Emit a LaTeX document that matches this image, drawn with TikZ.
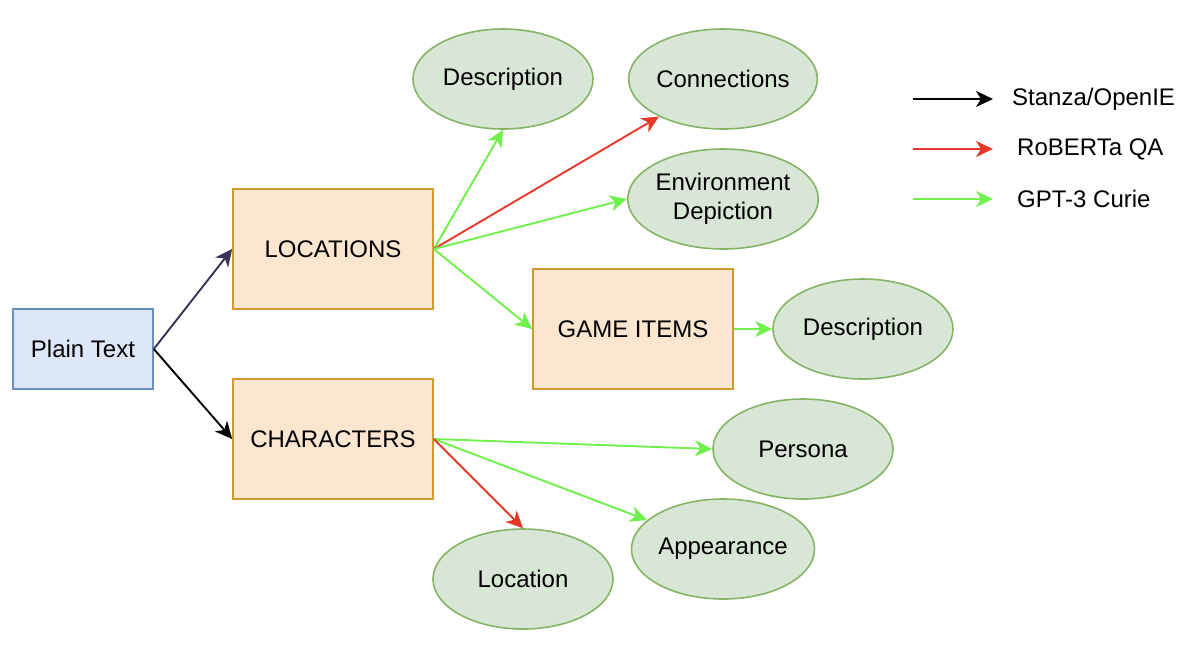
\documentclass[tikz,border=0pt]{standalone}
\usepackage{fontspec}
\setmainfont{Liberation Sans}
\usetikzlibrary{shapes.geometric,arrows.meta}
\definecolor{boxfill}{HTML}{FCE6D0}
\definecolor{boxline}{HTML}{D49A2E}
\definecolor{ellfill}{HTML}{D8E7D5}
\definecolor{ellline}{HTML}{86B366}
\definecolor{bluefill}{HTML}{DCE7FA}
\definecolor{blueline}{HTML}{6C8EBF}
\definecolor{gptgreen}{HTML}{6FF04A}
\definecolor{robred}{HTML}{E8382A}
\definecolor{purp}{HTML}{3B3056}
\begin{document}
\begin{tikzpicture}[x=1pt,y=-1pt,
  font=\fontsize{24}{29}\selectfont,
  rectbox/.style={draw=boxline, fill=boxfill, line width=1.6pt, minimum width=200pt, minimum height=120pt, inner sep=0pt},
  bluebox/.style={draw=blueline, fill=bluefill, line width=1.6pt, minimum width=140pt, minimum height=80pt, inner sep=0pt},
  ell/.style={ellipse, draw=ellline, fill=ellfill, line width=1.6pt, minimum width=180pt, minimum height=100pt, inner sep=0pt, align=center},
  conn/.style={line width=1.9pt, -{Stealth[length=17pt,width=16pt,inset=5pt]}},
  legtext/.style={anchor=west, inner sep=0pt}
]
\useasboundingbox (0,0) rectangle (1204,646);

\node[bluebox] (plain) at (83,349) {Plain Text};
\node[rectbox] (loc) at (333,249) {LOCATIONS};
\node[rectbox] (char) at (333,439) {CHARACTERS};
\node[rectbox] (game) at (633,329) {GAME ITEMS};

\node[ell] (desc1) at (503,79) {Description};
\node[ell] (conns) at (723,79) {Connections};
\node[ell] (env) at (723,199) {Environment\\Depiction};
\node[ell] (desc2) at (863,329) {Description};
\node[ell] (pers) at (803,449) {Persona};
\node[ell] (appe) at (723,549) {Appearance};
\node[ell] (locn) at (523,579) {Location};

\draw[conn, purp] (plain.east) -- (loc.west);
\draw[conn, black] (plain.east) -- (char.west);

\draw[conn, gptgreen] (loc.east) -- (desc1.south);
\draw[conn, robred] (loc.east) -- (conns);
\draw[conn, gptgreen] (loc.east) -- (env.west);
\draw[conn, gptgreen] (loc.east) -- (game.west);
\draw[conn, gptgreen] (game.east) -- (desc2.west);

\draw[conn, gptgreen] (char.east) -- (pers.west);
\draw[conn, gptgreen] (char.east) -- (appe);
\draw[conn, robred] (char.east) -- (locn.north);

% legend
\coordinate (l1s) at (913,99);  \coordinate (l1e) at (993,99);
\coordinate (l2s) at (913,149); \coordinate (l2e) at (993,149);
\coordinate (l3s) at (913,199); \coordinate (l3e) at (993,199);
\draw[conn, black] (l1s) -- (l1e);
\draw[conn, robred] (l2s) -- (l2e);
\draw[conn, gptgreen] (l3s) -- (l3e);
\node[legtext] (t1) at (1012,99) {Stanza/OpenIE};
\node[legtext] (t2) at (1017,149) {RoBERTa QA};
\node[legtext] (t3) at (1017,199) {GPT-3 Curie};
\end{tikzpicture}
\end{document}
